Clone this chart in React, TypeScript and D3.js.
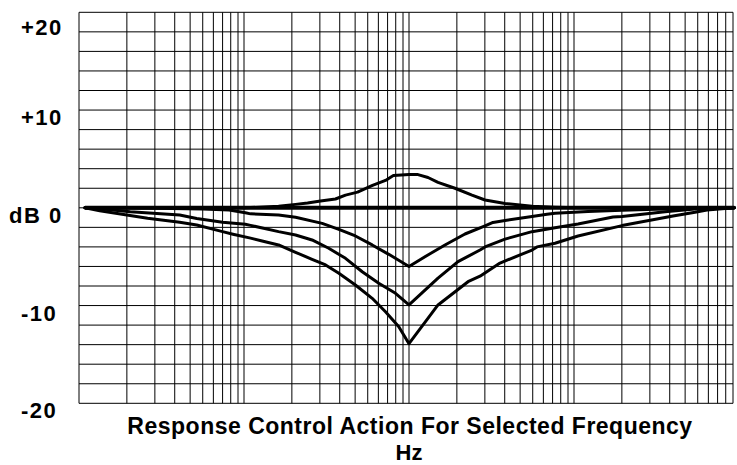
import React from "react";
import * as d3 from "d3";

// ---- data ----
const decades = [10, 100, 1000, 10000];
const gridMultiples = [1, 2, 3, 4, 5, 6, 7, 8, 9, 10];
const dbGridValues = d3.range(-20, 21, 2);
const yTickValues = [20, 10, 0, -10, -20];
const yTickLabels = ["+20", "+10", "dB 0", "-10", "-20"];
const title = "Response Control Action For Selected Frequency";
const unitLabel = "Hz";

const flatCurve: [number, number][] = [
  [10.9, 0],
  [102000, 0],
];

const boostCurve: [number, number][] = [
  [10.9, 0], [102, 0], [165, 0.15], [211, 0.35], [251, 0.5], [303, 0.7],
  [376, 0.9], [435, 1.3], [518, 1.6], [643, 2.3], [776, 2.8], [870, 3.3],
  [1000, 3.4], [1139, 3.4], [1317, 3.1], [1522, 2.6], [1946, 2.0],
  [2490, 1.3], [3006, 0.8], [4016, 0.45], [5939, 0.15], [8285, 0.05],
  [10600, 0], [102000, 0],
];

const cut6Curve: [number, number][] = [
  [10.9, 0], [30, -0.05], [60, -0.12], [88, -0.22], [102, -0.5], [110, -0.62],
  [165, -0.74], [211, -0.97], [310, -1.59], [395, -2.2], [502, -2.88],
  [640, -3.8], [814, -4.76], [1000, -6.0], [1260, -5.0], [1684, -3.8],
  [2250, -2.68], [3006, -1.86], [3375, -1.5], [4016, -1.3], [4989, -1.07],
  [5939, -0.88], [7379, -0.67], [8285, -0.56], [12240, -0.38],
  [20000, -0.25], [28780, -0.18], [51380, -0.08], [70000, -0.03], [102000, 0],
];

const cut10Curve: [number, number][] = [
  [10.9, 0], [13.5, -0.1], [21, -0.4], [43, -0.74], [55, -1.1], [80, -1.48],
  [102, -1.69], [110, -1.8], [165, -2.44], [211, -2.78], [268, -3.29],
  [341, -4.14], [435, -5.17], [554, -6.54], [704, -7.72], [897, -8.75],
  [1000, -9.94], [1522, -7.2], [2033, -5.5], [2797, -4.32], [3006, -4.0],
  [4016, -3.2], [5939, -2.44], [8285, -2.05], [10600, -1.65], [17590, -0.95],
  [20040, -0.88], [37340, -0.4], [57680, -0.13], [102000, 0],
];

const cut14Curve: [number, number][] = [
  [10.9, 0], [13.5, -0.3], [27, -1.07], [43, -1.48], [55, -1.76], [80, -2.44],
  [93, -2.7], [110, -3.1], [130, -3.4], [165, -3.8], [211, -4.55],
  [268, -5.27], [326, -5.85], [395, -6.7], [502, -7.9], [640, -9.26],
  [776, -10.63], [941, -12.16], [1000, -13.9], [1522, -9.94], [2350, -7.56],
  [2797, -7.0], [3736, -5.65], [5939, -4.32], [6384, -4.0], [8285, -3.63],
  [10600, -2.88], [20040, -1.82], [37340, -1.0], [41960, -0.84],
  [57680, -0.46], [68590, -0.22], [85290, -0.1], [102000, 0],
];

const responseCurves = [boostCurve, cut6Curve, cut10Curve, cut14Curve];

// ---- layout ----
const WIDTH = 737;
const HEIGHT = 465;
const PLOT_LEFT = 79;
const PANEL_W = 159;
const PANEL_GAP = 6;
const PLOT_TOP = 12.3;
const PLOT_BOTTOM = 403.3;

export default function App() {
  const panels = decades.map((d, i) => {
    const x0 = PLOT_LEFT + i * (PANEL_W + PANEL_GAP);
    return d3.scaleLog().domain([d, d * 10]).range([x0, x0 + PANEL_W]);
  });
  const xf = (f: number) => {
    let k = Math.floor(Math.log10(f) + 1e-9) - 1;
    k = Math.max(0, Math.min(decades.length - 1, k));
    return panels[k](f);
  };
  const plotRight = panels[panels.length - 1](decades[decades.length - 1] * 10);
  const y = d3.scaleLinear().domain([-20, 20]).range([PLOT_BOTTOM, PLOT_TOP]);

  const line = d3
    .line<[number, number]>()
    .x((d) => xf(d[0]))
    .y((d) => y(d[1]));

  const vLines: number[] = [];
  decades.forEach((d, i) => {
    gridMultiples.forEach((m) => vLines.push(panels[i](d * m)));
  });

  const font = "'Liberation Sans', Arial, sans-serif";

  return (
    <svg
      width={WIDTH}
      height={HEIGHT}
      style={{ position: "absolute", left: 0, top: 0, background: "#fff" }}
    >
      <rect x={0} y={0} width={WIDTH} height={HEIGHT} fill="#fff" />
      {dbGridValues.map((v) => (
        <line
          key={"h" + v}
          x1={PLOT_LEFT}
          x2={plotRight}
          y1={y(v)}
          y2={y(v)}
          stroke="#000"
          strokeWidth={1}
        />
      ))}
      {vLines.map((x, i) => (
        <line
          key={"v" + i}
          x1={x}
          x2={x}
          y1={PLOT_TOP}
          y2={PLOT_BOTTOM}
          stroke="#000"
          strokeWidth={1}
        />
      ))}
      <path
        d={line(flatCurve) || ""}
        fill="none"
        stroke="#000"
        strokeWidth={4}
      />
      {responseCurves.map((c, i) => (
        <path
          key={"c" + i}
          d={line(c) || ""}
          fill="none"
          stroke="#000"
          strokeWidth={3}
          strokeLinejoin="round"
          strokeLinecap="round"
        />
      ))}
      {yTickValues.map((v, i) => {
        const yy = Math.max(y(v) + 15, PLOT_TOP + 23);
        return (
          <text
            key={"t" + v}
            x={yTickLabels[i].startsWith("dB") ? 9 : 21}
            y={yy}
            fontFamily={font}
            fontWeight="bold"
            fontSize={22}
            letterSpacing={1.5}
            fill="#000"
          >
            {yTickLabels[i]}
          </text>
        );
      })}
      <text
        x={(PLOT_LEFT + plotRight) / 2 + 4}
        y={434}
        textAnchor="middle"
        fontFamily={font}
        fontWeight="bold"
        fontSize={23}
        letterSpacing={0.5}
        fill="#000"
      >
        {title}
      </text>
      <text
        x={(PLOT_LEFT + plotRight) / 2 + 3}
        y={460}
        textAnchor="middle"
        fontFamily={font}
        fontWeight="bold"
        fontSize={22}
        fill="#000"
      >
        {unitLabel}
      </text>
    </svg>
  );
}
